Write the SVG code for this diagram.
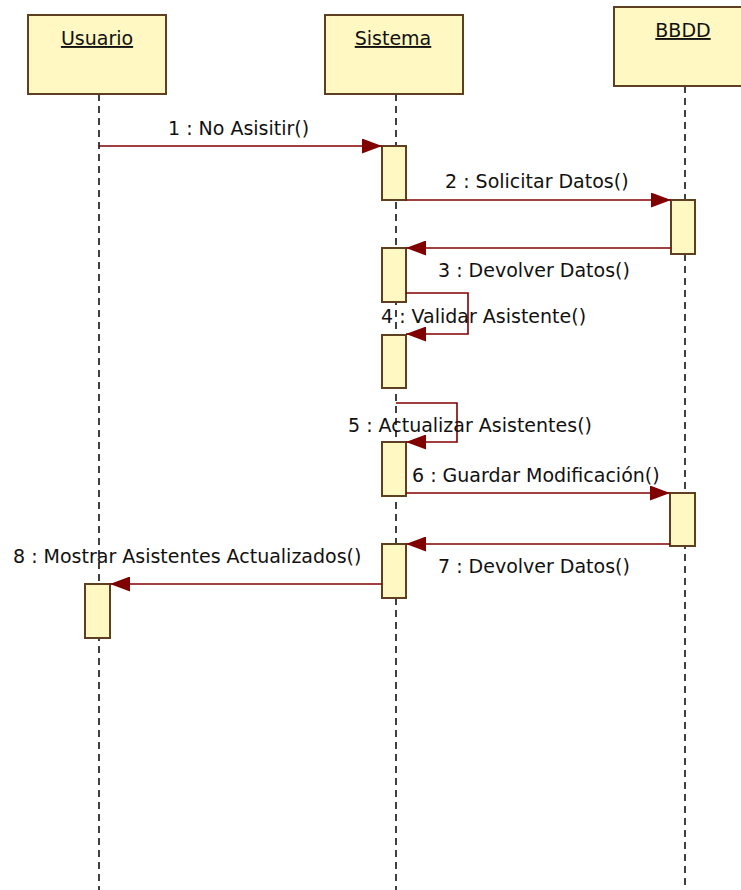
<svg xmlns="http://www.w3.org/2000/svg" width="741" height="890" viewBox="0 0 741 890">
<style>
.box{fill:#fff8c2;stroke:#5e3f20;stroke-width:2}
.act{fill:#fff8c2;stroke:#5e3f20;stroke-width:2}
.life{stroke:#111;stroke-width:1.6;stroke-dasharray:7 5;fill:none}
.msg{stroke:#800000;stroke-width:1.6;fill:none}
.t{font-family:"DejaVu Sans",Verdana,sans-serif;font-size:19px;fill:#111}
.title{font-family:"DejaVu Sans",Verdana,sans-serif;font-size:19px;fill:#111;text-decoration:underline;text-anchor:middle}
</style>
<defs>
<marker id="ah" markerUnits="userSpaceOnUse" markerWidth="20" markerHeight="15" refX="20" refY="7.5" orient="auto">
<path d="M0,0 L20,7.5 L0,15 z" fill="#800000"/>
</marker>
</defs>
<rect width="741" height="890" fill="#fff"/>
<g id="lifelines">
<line class="life" x1="99" y1="94" x2="99" y2="890"/>
<line class="life" x1="396" y1="94" x2="396" y2="890"/>
<line class="life" x1="685" y1="86" x2="685" y2="890"/>
</g>
<g id="usuario">
<rect class="box" x="28" y="15" width="138" height="79"/>
<text class="title" x="97" y="45">Usuario</text>
<rect class="act" x="85" y="584" width="25" height="54"/>
</g>
<g id="sistema">
<rect class="box" x="325" y="15" width="138" height="79"/>
<text class="title" x="393" y="45">Sistema</text>
<rect class="act" x="382" y="146" width="24" height="54"/>
<rect class="act" x="382" y="248" width="24" height="54"/>
<rect class="act" x="382" y="335" width="24" height="53"/>
<rect class="act" x="382" y="442" width="24" height="54"/>
<rect class="act" x="382" y="544" width="24" height="54"/>
</g>
<g id="bbdd">
<rect class="box" x="614" y="7" width="140" height="79"/>
<text class="title" x="683" y="37">BBDD</text>
<rect class="act" x="671" y="200" width="24" height="54"/>
<rect class="act" x="670" y="493" width="25" height="53"/>
</g>
<g id="connectors">
<line class="msg" x1="99" y1="146" x2="382" y2="146" marker-end="url(#ah)"/>
<line class="msg" x1="406" y1="200" x2="671" y2="200" marker-end="url(#ah)"/>
<line class="msg" x1="671" y1="248" x2="406" y2="248" marker-end="url(#ah)"/>
<path class="msg" d="M406,293 H468 V334 H406" marker-end="url(#ah)"/>
<path class="msg" d="M396,403 H457 V442 H406" marker-end="url(#ah)"/>
<line class="msg" x1="406" y1="493" x2="670" y2="493" marker-end="url(#ah)"/>
<line class="msg" x1="670" y1="544" x2="406" y2="544" marker-end="url(#ah)"/>
<line class="msg" x1="382" y1="584" x2="110" y2="584" marker-end="url(#ah)"/>
</g>
<g id="labels">
<text class="t" x="168" y="135">1 : No Asisitir()</text>
<text class="t" x="445" y="188">2 : Solicitar Datos()</text>
<text class="t" x="438" y="277">3 : Devolver Datos()</text>
<text class="t" x="381" y="323">4 : Validar Asistente()</text>
<text class="t" x="348" y="432">5 : Actualizar Asistentes()</text>
<text class="t" x="412" y="482">6 : Guardar Modificación()</text>
<text class="t" x="438" y="573">7 : Devolver Datos()</text>
<text class="t" x="13" y="563">8 : Mostrar Asistentes Actualizados()</text>
</g>
</svg>
